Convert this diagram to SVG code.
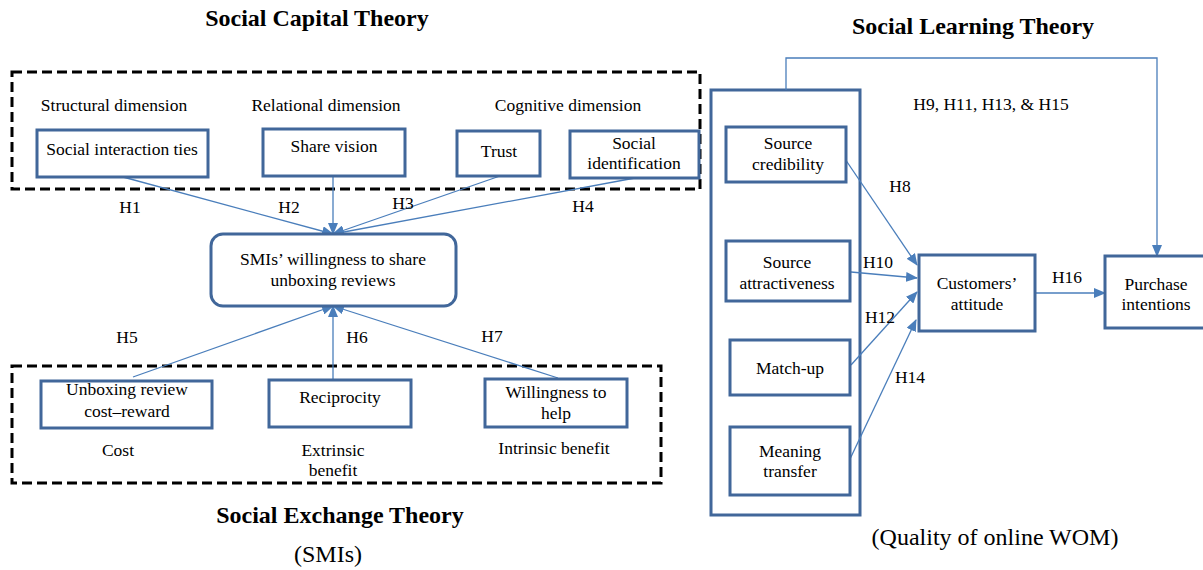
<svg xmlns="http://www.w3.org/2000/svg" width="1203" height="570" viewBox="0 0 1203 570">
<defs>
<marker id="ah" markerWidth="12" markerHeight="10" refX="11" refY="5" orient="auto" markerUnits="userSpaceOnUse">
<path d="M0,0 L12,5 L0,10 Z" fill="#4A7EBB"/>
</marker>
<style>
text{font-family:"Liberation Serif","Times New Roman",serif;fill:#000;}
.t{font-size:17.5px;text-anchor:middle;}
.h{font-size:17.5px;text-anchor:middle;}
.title{font-size:24px;font-weight:bold;text-anchor:middle;}
.sub{font-size:24px;text-anchor:middle;}
.box{fill:#fff;stroke:#41679A;stroke-width:3;}
.dash{fill:none;stroke:#000;stroke-width:3;stroke-dasharray:10,5;}
.c{fill:none;stroke:#4A7EBB;stroke-width:1.3;marker-end:url(#ah);}
</style>
</defs>
<rect width="1203" height="570" fill="#fff"/>

<g id="frames">
<rect class="dash" x="12" y="72" width="688" height="117"/>
<rect class="dash" x="12" y="366" width="649" height="117"/>
<rect class="box" x="711" y="90" width="149" height="425"/>
</g>

<g id="titles">
<text class="title" x="317" y="26">Social Capital Theory</text>
<text class="title" x="973" y="34">Social Learning Theory</text>
<text class="title" x="340" y="523">Social Exchange Theory</text>
<text class="sub" x="328" y="562">(SMIs)</text>
<text class="sub" x="995" y="545">(Quality of online WOM)</text>
<text class="t" x="114" y="111">Structural dimension</text>
<text class="t" x="326" y="111">Relational dimension</text>
<text class="t" x="568" y="111">Cognitive dimension</text>
<text class="t" x="118" y="456">Cost</text>
<text class="t" x="333" y="456">Extrinsic</text>
<text class="t" x="333" y="476">benefit</text>
<text class="t" x="554" y="454">Intrinsic benefit</text>
</g>

<g id="connectors">
<line class="c" x1="123" y1="177" x2="333" y2="234"/>
<line class="c" x1="333" y1="176" x2="333" y2="234"/>
<line class="c" x1="500" y1="176" x2="333" y2="234"/>
<line class="c" x1="635" y1="178" x2="333" y2="234"/>
<line class="c" x1="133" y1="377" x2="333" y2="306"/>
<line class="c" x1="333" y1="380" x2="333" y2="306"/>
<line class="c" x1="558" y1="378" x2="333" y2="306"/>
<line class="c" x1="841" y1="153" x2="917" y2="265"/>
<line class="c" x1="851" y1="272" x2="917" y2="278"/>
<line class="c" x1="851" y1="365" x2="917" y2="292"/>
<line class="c" x1="850" y1="459" x2="916" y2="320"/>
<line class="c" x1="1036" y1="293" x2="1105" y2="293"/>
<polyline class="c" points="786,90 786,58 1157,58 1157,256"/>
<text class="h" x="130" y="213">H1</text>
<text class="h" x="289" y="213">H2</text>
<text class="h" x="403" y="209">H3</text>
<text class="h" x="583" y="212">H4</text>
<text class="h" x="127" y="343">H5</text>
<text class="h" x="357" y="343">H6</text>
<text class="h" x="492" y="342">H7</text>
<text class="h" x="900" y="192">H8</text>
<text class="h" x="878" y="268">H10</text>
<text class="h" x="880" y="323">H12</text>
<text class="h" x="910" y="383">H14</text>
<text class="h" x="1067" y="283">H16</text>
<text class="h" x="991" y="110">H9, H11, H13, &amp; H15</text>
</g>

<g id="n-sit">
<rect class="box" x="37" y="130" width="171" height="47"/>
<text class="t" x="122" y="155">Social interaction ties</text>
</g>
<g id="n-sv">
<rect class="box" x="263" y="129" width="142" height="47"/>
<text class="t" x="334" y="152">Share vision</text>
</g>
<g id="n-trust">
<rect class="box" x="457" y="131" width="83" height="45"/>
<text class="t" x="499" y="157">Trust</text>
</g>
<g id="n-si">
<rect class="box" x="570" y="131" width="129" height="47"/>
<text class="t" x="634" y="149">Social</text>
<text class="t" x="634" y="169">identification</text>
</g>
<g id="n-smi">
<rect class="box" x="211" y="234" width="245" height="72" rx="12"/>
<text class="t" x="333" y="265">SMIs’ willingness to share</text>
<text class="t" x="333" y="286">unboxing reviews</text>
</g>
<g id="n-ur">
<rect class="box" x="41" y="381" width="171" height="47"/>
<text class="t" x="127" y="395">Unboxing review</text>
<text class="t" x="127" y="417">cost–reward</text>
</g>
<g id="n-rec">
<rect class="box" x="269" y="380" width="142" height="47"/>
<text class="t" x="340" y="403">Reciprocity</text>
</g>
<g id="n-wth">
<rect class="box" x="485" y="379" width="142" height="48"/>
<text class="t" x="556" y="398">Willingness to</text>
<text class="t" x="556" y="419">help</text>
</g>
<g id="n-sc">
<rect class="box" x="726" y="127" width="120" height="55"/>
<text class="t" x="788" y="149">Source</text>
<text class="t" x="788" y="170">credibility</text>
</g>
<g id="n-sa">
<rect class="box" x="726" y="241" width="124" height="60"/>
<text class="t" x="787" y="268">Source</text>
<text class="t" x="787" y="289">attractiveness</text>
</g>
<g id="n-mu">
<rect class="box" x="730" y="340" width="120" height="55"/>
<text class="t" x="790" y="374">Match-up</text>
</g>
<g id="n-mt">
<rect class="box" x="730" y="427" width="120" height="68"/>
<text class="t" x="790" y="457">Meaning</text>
<text class="t" x="790" y="477">transfer</text>
</g>
<g id="n-ca">
<rect class="box" x="919" y="255" width="116" height="76"/>
<text class="t" x="977" y="289">Customers’</text>
<text class="t" x="977" y="310">attitude</text>
</g>
<g id="n-pi">
<rect class="box" x="1105" y="256" width="105" height="72"/>
<text class="t" x="1156" y="290">Purchase</text>
<text class="t" x="1156" y="310">intentions</text>
</g>
</svg>
